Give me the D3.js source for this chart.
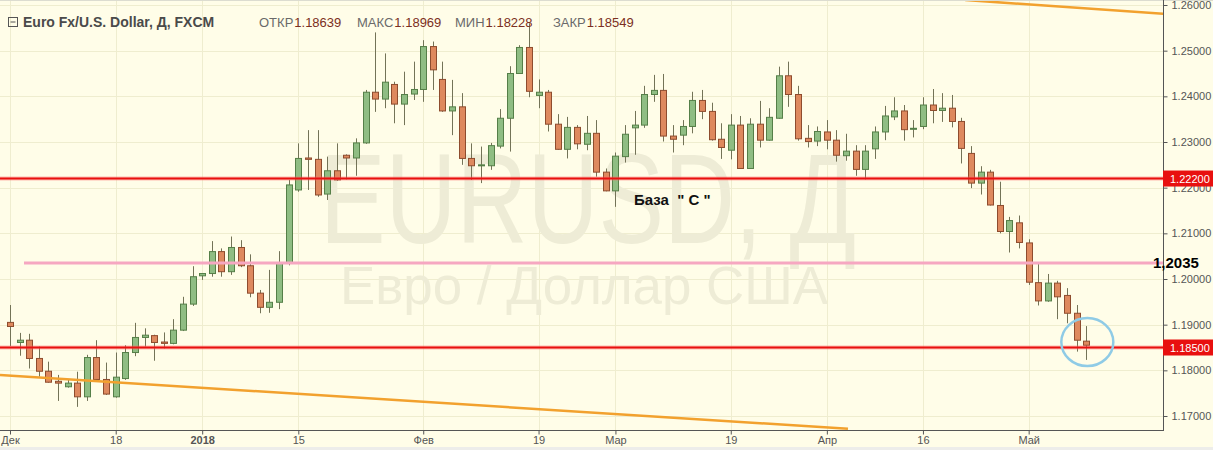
<!DOCTYPE html>
<html><head><meta charset="utf-8">
<script src="https://cdnjs.cloudflare.com/ajax/libs/d3/7.8.5/d3.min.js"></script>
<style>html,body{margin:0;padding:0;background:#fff;}svg{display:block;}</style>
</head><body>
<script>
// ---------------- DATA ----------------
const dates = [
 "2017-12-01","2017-12-04","2017-12-05","2017-12-06","2017-12-07","2017-12-08","2017-12-11","2017-12-12","2017-12-13","2017-12-14","2017-12-15","2017-12-18","2017-12-19","2017-12-20","2017-12-21","2017-12-22","2017-12-26","2017-12-27","2017-12-28","2017-12-29",
 "2018-01-01","2018-01-02","2018-01-03","2018-01-04","2018-01-05","2018-01-08","2018-01-09","2018-01-10","2018-01-11","2018-01-12","2018-01-15","2018-01-16","2018-01-17","2018-01-18","2018-01-19","2018-01-22","2018-01-23","2018-01-24","2018-01-25","2018-01-26","2018-01-29","2018-01-30","2018-01-31",
 "2018-02-01","2018-02-02","2018-02-05","2018-02-06","2018-02-07","2018-02-08","2018-02-09","2018-02-12","2018-02-13","2018-02-14","2018-02-15","2018-02-16","2018-02-19","2018-02-20","2018-02-21","2018-02-22","2018-02-23","2018-02-26","2018-02-27","2018-02-28",
 "2018-03-01","2018-03-02","2018-03-05","2018-03-06","2018-03-07","2018-03-08","2018-03-09","2018-03-12","2018-03-13","2018-03-14","2018-03-15","2018-03-16","2018-03-19","2018-03-20","2018-03-21","2018-03-22","2018-03-23","2018-03-26","2018-03-27","2018-03-28","2018-03-29","2018-03-30",
 "2018-04-02","2018-04-03","2018-04-04","2018-04-05","2018-04-06","2018-04-09","2018-04-10","2018-04-11","2018-04-12","2018-04-13","2018-04-16","2018-04-17","2018-04-18","2018-04-19","2018-04-20","2018-04-23","2018-04-24","2018-04-25","2018-04-26","2018-04-27","2018-04-30",
 "2018-05-01","2018-05-02","2018-05-03","2018-05-04","2018-05-07","2018-05-08","2018-05-09"
];
const opens = [
 1.1905,1.1861,1.1866,1.1826,1.1798,1.1776,1.1764,1.1772,1.1742,1.1828,1.1780,1.1742,1.1782,1.1839,1.1872,1.1876,1.1862,1.1859,1.1888,1.1945,
 1.2007,1.2012,1.2060,1.2016,1.2069,1.2029,1.1969,1.1938,1.1949,1.2034,1.2195,1.2265,1.2262,1.2186,1.2237,1.2271,1.2265,1.2298,1.2409,1.2394,1.2426,1.2383,1.2405,
 1.2415,1.2509,1.2437,1.2368,1.2377,1.2264,1.2249,1.2248,1.2291,1.2352,1.2450,1.2507,1.2402,1.2409,1.2339,1.2284,1.2332,1.2295,1.2319,1.2234,
 1.2193,1.2268,1.2331,1.2337,1.2404,1.2413,1.2313,1.2315,1.2334,1.2391,1.2367,1.2306,1.2282,1.2337,1.2242,1.2339,1.2304,1.2352,1.2445,1.2404,1.2308,1.2302,
 1.2322,1.2304,1.2270,1.2280,1.2240,1.2285,1.2322,1.2355,1.2368,1.2328,1.2334,1.2381,1.2369,1.2374,1.2345,1.2275,1.2210,1.2234,1.2161,1.2104,1.2123,
 1.2079,1.1992,1.1952,1.1991,1.1964,1.1925,1.18639
];
const highs = [
 1.1943,1.1882,1.1880,1.1852,1.1819,1.1790,1.1779,1.1797,1.1834,1.1866,1.1817,1.1839,1.1855,1.1904,1.1892,1.1878,1.1883,1.1912,1.1961,1.2028,
 1.2013,1.2083,1.2067,1.2093,1.2085,1.2054,1.1976,1.2020,1.2061,1.2217,1.2297,1.2326,1.2326,1.2268,1.2297,1.2273,1.2308,1.2414,1.2540,1.2494,1.2432,1.2454,1.2476,
 1.2523,1.2520,1.2476,1.2436,1.2407,1.2297,1.2290,1.2298,1.2372,1.2466,1.2512,1.2560,1.2437,1.2414,1.2361,1.2355,1.2337,1.2357,1.2348,1.2242,
 1.2277,1.2337,1.2368,1.2423,1.2447,1.2449,1.2337,1.2348,1.2410,1.2414,1.2386,1.2341,1.2361,1.2357,1.2352,1.2390,1.2374,1.2465,1.2476,1.2423,1.2337,1.2334,
 1.2348,1.2326,1.2318,1.2293,1.2293,1.2334,1.2379,1.2398,1.2381,1.2348,1.2398,1.2416,1.2407,1.2403,1.2353,1.2291,1.2247,1.2239,1.2213,1.2136,1.2139,
 1.2087,1.2034,1.2011,1.1996,1.1980,1.1943,1.18969
];
const lows = [
 1.1853,1.1832,1.1804,1.1786,1.1773,1.1733,1.1762,1.1720,1.1733,1.1778,1.1746,1.1740,1.1779,1.1831,1.1852,1.1821,1.1848,1.1857,1.1886,1.1941,
 1.1998,1.2005,1.2005,1.2009,1.2026,1.1960,1.1925,1.1926,1.1934,1.2030,1.2191,1.2195,1.2180,1.2173,1.2215,1.2218,1.2226,1.2296,1.2366,1.2374,1.2341,1.2337,1.2392,
 1.2388,1.2414,1.2366,1.2315,1.2250,1.2217,1.2210,1.2239,1.2286,1.2279,1.2449,1.2398,1.2374,1.2323,1.2283,1.2264,1.2284,1.2282,1.2224,1.2192,
 1.2158,1.2255,1.2272,1.2331,1.2388,1.2301,1.2277,1.2293,1.2319,1.2350,1.2303,1.2263,1.2262,1.2241,1.2241,1.2288,1.2303,1.2351,1.2377,1.2303,1.2288,1.2291,
 1.2284,1.2257,1.2259,1.2226,1.2218,1.2263,1.2304,1.2348,1.2303,1.2310,1.2328,1.2341,1.2344,1.2332,1.2253,1.2199,1.2185,1.2161,1.2100,1.2058,1.2067,
 1.1987,1.1942,1.1950,1.1912,1.1903,1.1841,1.18228
];
const closes = [
 1.1896,1.1866,1.1826,1.1798,1.1774,1.1772,1.1772,1.1742,1.1828,1.1780,1.1748,1.1785,1.1839,1.1872,1.1877,1.1861,1.1859,1.1888,1.1945,1.2005,
 1.2012,1.2060,1.2016,1.2069,1.2029,1.1969,1.1938,1.1949,1.2034,1.2206,1.2264,1.2262,1.2184,1.2237,1.2217,1.2265,1.2298,1.2409,1.2394,1.2431,1.2383,1.2404,1.2415,
 1.2509,1.2458,1.2368,1.2377,1.2264,1.2248,1.2250,1.2292,1.2352,1.2450,1.2507,1.2411,1.2409,1.2339,1.2284,1.2332,1.2296,1.2319,1.2234,1.2193,
 1.2269,1.2317,1.2337,1.2404,1.2413,1.2313,1.2306,1.2334,1.2391,1.2367,1.2305,1.2288,1.2337,1.2242,1.2339,1.2304,1.2354,1.2445,1.2404,1.2307,1.2301,1.2323,
 1.2304,1.2271,1.2280,1.2240,1.2280,1.2322,1.2357,1.2368,1.2327,1.2330,1.2381,1.2369,1.2374,1.2345,1.2286,1.2210,1.2234,1.2162,1.2104,1.2128,1.2080,
 1.1993,1.1952,1.1991,1.1961,1.1925,1.1866,1.18549
];
const priceTicks = [1.17,1.18,1.19,1.20,1.21,1.22,1.23,1.24,1.25,1.26];
const dateTickDates = ["2017-12-01","2017-12-18","2018-01-01","2018-01-15","2018-02-01","2018-02-19","2018-03-01","2018-03-19","2018-04-02","2018-04-16","2018-05-01"];
const dateTickLabels = ["Дек","18","2018","15","Фев","19","Мар","19","Апр","16","Май"];
const levelPrices = [1.222, 1.185];
const levelLabels = ["1.22200", "1.18500"];
const pinkLevel = 1.2035;
const pinkLabel = "1,2035";
const trendLower = [[-1.04, 1.17898], [87.2, 1.16720]];
const trendUpper = [[99.4, 1.2611], [120.5, 1.2580]];
const headerTitle = "Euro Fx/U.S. Dollar, Д, FXCM";
const headerFields = [["ОТКР","1.18639"],["МАКС","1.18969"],["МИН","1.18228"],["ЗАКР","1.18549"]];
const noteText = "База  \" С \"";
const watermark1 = "EURUSD, Д";
const watermark2 = "Евро / Доллар США";

// ---------------- LAYOUT ----------------
const W = 1213, H = 450;
const plotR = 1163, plotB = 431;
const svg = d3.select("body").append("svg").attr("width", W).attr("height", H)
  .style("font-family", "'Liberation Sans', Arial, sans-serif");

const bg = "#fffde8";
svg.append("rect").attr("width", W).attr("height", H).attr("fill", bg);
svg.append("line").attr("x1", 0).attr("x2", W).attr("y1", 0.5).attr("y2", 0.5).attr("stroke", "#dcdcd0");
svg.append("rect").attr("x", 0).attr("y", 447).attr("width", W).attr("height", 3).attr("fill", "#ededea");

const x = d3.scalePoint().domain(dates).range([10, 10 + 112 * 9.61]);
const xi = d3.scaleLinear().domain([0, dates.length - 1]).range(x.range());
const y = d3.scaleLinear().domain([1.17, 1.26]).range([416, 5]);

const defs = svg.append("defs");
defs.append("clipPath").attr("id", "plotclip").append("rect")
  .attr("x", 0).attr("y", 1).attr("width", plotR).attr("height", plotB - 1);

const plot = svg.append("g").attr("clip-path", "url(#plotclip)");

// grid
plot.selectAll(".hg").data(priceTicks).join("line")
  .attr("x1", 0).attr("x2", plotR).attr("y1", d => Math.round(y(d)) + 0.5).attr("y2", d => Math.round(y(d)) + 0.5)
  .attr("stroke", "#efedcf").attr("stroke-width", 1);
plot.selectAll(".vg").data(dateTickDates).join("line")
  .attr("y1", 0).attr("y2", plotB).attr("x1", d => Math.round(x(d)) + 0.5).attr("x2", d => Math.round(x(d)) + 0.5)
  .attr("stroke", "#efedcf").attr("stroke-width", 1);

// watermark
plot.append("text").text(watermark1).attr("x", 320).attr("y", 243)
  .attr("font-size", 128).attr("textLength", 536).attr("lengthAdjust", "spacingAndGlyphs")
  .attr("fill", "#eeecd6");
plot.append("text").text(watermark2).attr("x", 340).attr("y", 304)
  .attr("font-size", 54).attr("textLength", 488).attr("lengthAdjust", "spacingAndGlyphs")
  .attr("fill", "#eeecd6");

// candles
const data = dates.map((d, i) => ({d, o: opens[i], h: highs[i], l: lows[i], c: closes[i]}));
const cg = plot.append("g");
const candle = cg.selectAll("g").data(data).join("g");
candle.append("line")
  .attr("x1", d => Math.round(x(d.d)) + 0.5).attr("x2", d => Math.round(x(d.d)) + 0.5)
  .attr("y1", d => y(d.h)).attr("y2", d => y(d.l))
  .attr("stroke", "#737357").attr("stroke-width", 1);
candle.append("rect")
  .attr("x", d => Math.round(x(d.d)) - 2.5).attr("width", 6)
  .attr("y", d => y(Math.max(d.o, d.c)))
  .attr("height", d => Math.max(1, Math.abs(y(d.o) - y(d.c))))
  .attr("fill", d => d.c >= d.o ? "#8fbd83" : "#de895e")
  .attr("stroke", d => d.c >= d.o ? "#557f48" : "#8e4c2e").attr("stroke-width", 1);

// trend lines
const tl = d3.line().x(d => xi(d[0])).y(d => y(d[1]));
[trendLower, trendUpper].forEach(t => {
  plot.append("path").attr("d", tl(t)).attr("fill", "none")
    .attr("stroke", "#f2a12e").attr("stroke-width", 2.5);
});

// horizontal levels
levelPrices.forEach(p => {
  plot.append("line").attr("x1", 0).attr("x2", plotR).attr("y1", y(p)).attr("y2", y(p))
    .attr("stroke", "#ff6b6b").attr("stroke-opacity", 0.45).attr("stroke-width", 4);
  plot.append("line").attr("x1", 0).attr("x2", plotR).attr("y1", y(p)).attr("y2", y(p))
    .attr("stroke", "#e8100f").attr("stroke-width", 2);
});
plot.append("line").attr("x1", 24).attr("x2", plotR).attr("y1", y(pinkLevel)).attr("y2", y(pinkLevel))
  .attr("stroke", "#f6a7c1").attr("stroke-width", 3);

// circle annotation
const last = data[data.length - 1];
plot.append("ellipse").attr("cx", x(last.d) + 1).attr("cy", y(1.1862)).attr("rx", 26).attr("ry", 24)
  .attr("fill", "none").attr("stroke", "#8fcbe6").attr("stroke-width", 2.5);

// note text
plot.append("text").text(noteText).attr("x", 634).attr("y", 205)
  .attr("font-size", 15).attr("font-weight", "bold").attr("fill", "#111")
  .style("white-space", "pre").attr("xml:space", "preserve");

// right axis
const yAxis = d3.axisRight(y).tickValues(priceTicks).tickSize(4).tickPadding(4).tickFormat(d3.format(".5f"));
const ya = svg.append("g").attr("transform", `translate(${plotR + 0.5},0)`).call(yAxis);
ya.select(".domain").attr("stroke", "#555").attr("d", `M0,0V${plotB}`);
ya.selectAll(".tick line").attr("stroke", "#555");
ya.selectAll(".tick text").attr("fill", "#555").attr("font-size", 11).attr("font-family", "'Liberation Sans', Arial, sans-serif");

// bottom axis
const xAxis = d3.axisBottom(x).tickValues(dateTickDates).tickSize(4).tickPadding(2)
  .tickFormat((d, i) => dateTickLabels[i]);
const xa = svg.append("g").attr("transform", `translate(0,${plotB - 0.5})`).call(xAxis);
xa.select(".domain").attr("stroke", "#555").attr("d", `M0,0H${plotR}`);
xa.selectAll(".tick line").attr("stroke", "#555");
xa.selectAll(".tick text").attr("fill", "#555").attr("font-size", 11)
  .attr("font-family", "'Liberation Sans', Arial, sans-serif")
  .attr("font-weight", (d, i) => dateTickLabels[i] === "2018" ? "bold" : "normal")
  .attr("text-anchor", "middle");

// level labels on axis
levelPrices.forEach((p, i) => {
  const g = svg.append("g").attr("transform", `translate(${plotR},${y(p)})`);
  g.append("rect").attr("x", 0).attr("y", -8).attr("width", W - plotR).attr("height", 16).attr("fill", "#e8100f");
  g.append("text").text(levelLabels[i]).attr("x", 7).attr("y", 4).attr("fill", "#fff").attr("font-size", 11);
});
svg.append("text").text(pinkLabel).attr("x", 1153).attr("y", y(pinkLevel) + 5)
  .attr("font-size", 15).attr("font-weight", "bold").attr("fill", "#000");

// header
const hd = svg.append("g");
hd.append("rect").attr("x", 8.5).attr("y", 17.5).attr("width", 9).attr("height", 9).attr("fill", "none").attr("stroke", "#555");
hd.append("line").attr("x1", 10.5).attr("x2", 15.5).attr("y1", 22).attr("y2", 22).attr("stroke", "#555");
hd.append("text").text(headerTitle).attr("x", 23).attr("y", 27).attr("font-size", 14).attr("font-weight", "bold").attr("fill", "#4a4a4a");
let hx = 259;
headerFields.forEach(([k, v]) => {
  const t = hd.append("text").attr("x", hx).attr("y", 27).attr("font-size", 13);
  t.append("tspan").text(k).attr("fill", "#6a6a6a");
  t.append("tspan").text(v).attr("fill", "#7b2f22").attr("dx", 1);
  hx += 98;
});
</script>
</body></html>
